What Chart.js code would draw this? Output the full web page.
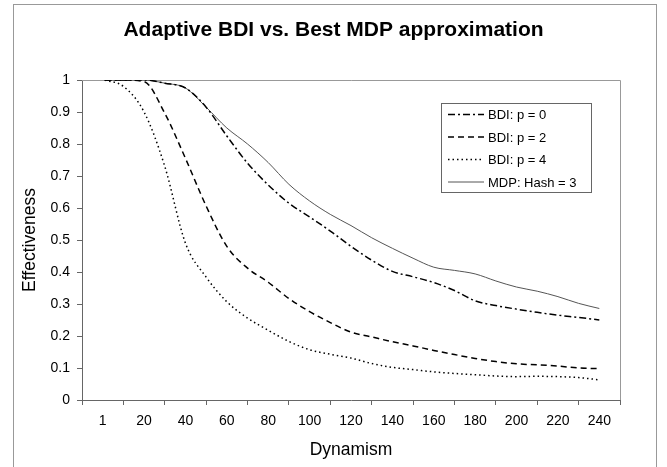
<!DOCTYPE html>
<html>
<head>
<meta charset="utf-8">
<script src="https://cdn.jsdelivr.net/npm/chart.js@4.4.0/dist/chart.umd.min.js"></script>
<style>
  body { margin: 0; background: #fff; }
</style>
</head>
<body>
<canvas id="chart" width="667" height="467"></canvas>
<script>
// values
const dynamism = [1, 10, 20, 30, 40, 50, 60, 70, 80, 90, 100, 110, 120, 130, 140, 150, 160, 170, 180, 190, 200, 210, 220, 230, 240]
const bdiP0 = [1.0, 1.0, 1.0, 0.99, 0.975, 0.915, 0.825, 0.74, 0.672, 0.615, 0.572, 0.528, 0.48, 0.437, 0.402, 0.385, 0.367, 0.342, 0.31, 0.295, 0.284, 0.274, 0.265, 0.258, 0.25]
const bdiP2 = [1.0, 1.0, 0.995, 0.896, 0.755, 0.606, 0.48, 0.412, 0.368, 0.317, 0.276, 0.242, 0.212, 0.197, 0.182, 0.169, 0.155, 0.142, 0.13, 0.12, 0.113, 0.11, 0.106, 0.1, 0.098]
const bdiP4 = [1.0, 0.98, 0.9, 0.73, 0.49, 0.384, 0.307, 0.256, 0.218, 0.183, 0.157, 0.143, 0.131, 0.114, 0.102, 0.095, 0.088, 0.083, 0.079, 0.075, 0.073, 0.074, 0.073, 0.07, 0.063]
const mdpHash3 = [1.0, 1.0, 1.0, 0.99, 0.975, 0.915, 0.85, 0.8, 0.742, 0.674, 0.622, 0.58, 0.545, 0.507, 0.474, 0.443, 0.415, 0.405, 0.394, 0.372, 0.353, 0.34, 0.323, 0.302, 0.286]
const xTicks = ['1', '20', '40', '60', '80', '100', '120', '140', '160', '180', '200', '220', '240']

const seriesNames = ['BDI: p = 0', 'BDI: p = 2', 'BDI: p = 4', 'MDP: Hash = 3']

Chart.defaults.font.family = '"Liberation Sans", Arial, sans-serif'
Chart.defaults.color = '#000'

function pts(arr) {
  return dynamism.map((d, i) => ({ x: d, y: arr[i] }))
}

// outer frame + plot area border (top/right) like the original
const framePlugin = {
  id: 'frame',
  beforeDraw(chart) {
    const c = chart.ctx
    c.save()
    c.fillStyle = '#fff'
    c.fillRect(0, 0, chart.width, chart.height)
    c.strokeStyle = '#999'
    c.lineWidth = 1
    c.strokeRect(13.5, 4.5, 643, 480)
    c.restore()
  },
  beforeDatasetsDraw(chart) {
    const a = chart.chartArea
    const c = chart.ctx
    c.save()
    c.strokeStyle = '#999'
    c.lineWidth = 1
    c.beginPath()
    c.moveTo(a.left, Math.round(a.top) + 0.5)
    c.lineTo(Math.round(a.right) + 0.5, Math.round(a.top) + 0.5)
    c.lineTo(Math.round(a.right) + 0.5, a.bottom)
    c.stroke()
    c.restore()
  }
}

// boxed legend inside the plot, top right
const boxLegend = {
  id: 'boxLegend',
  afterDraw(chart) {
    const c = chart.ctx
    const x0 = 441.5, y0 = 103.5, w = 150, h = 89
    c.save()
    c.fillStyle = '#fff'
    c.fillRect(x0, y0, w, h)
    c.strokeStyle = '#666'
    c.lineWidth = 1
    c.strokeRect(x0, y0, w, h)
    c.font = '13px "Liberation Sans", Arial'
    c.textBaseline = 'middle'
    chart.data.datasets.forEach((ds, i) => {
      const y = y0 + 11 + i * 22.5
      c.strokeStyle = ds.borderColor
      c.lineWidth = ds.borderWidth
      c.setLineDash(ds.borderDash || [])
      c.beginPath()
      c.moveTo(448, y)
      c.lineTo(484, y)
      c.stroke()
      c.setLineDash([])
      c.fillStyle = '#000'
      c.fillText(ds.label, 488, y + 1)
    })
    c.restore()
  }
}

new Chart(document.getElementById('chart'), {
  type: 'line',
  data: {
    datasets: [
      { label: seriesNames[0], data: pts(bdiP0), borderColor: '#000', borderWidth: 1.5, borderDash: [7, 3, 2, 3] },
      { label: seriesNames[1], data: pts(bdiP2), borderColor: '#000', borderWidth: 1.5, borderDash: [6, 4] },
      { label: seriesNames[2], data: pts(bdiP4), borderColor: '#000', borderWidth: 1.5, borderDash: [1.5, 3] },
      { label: seriesNames[3], data: pts(mdpHash3), borderColor: '#555', borderWidth: 1 }
    ]
  },
  options: {
    responsive: false,
    animation: false,
    cubicInterpolationMode: 'monotone',
    pointRadius: 0,
    layout: { padding: 0 },
    plugins: {
      legend: { display: false },
      tooltip: { enabled: false },
      title: {
        display: true,
        text: 'Adaptive BDI vs. Best MDP approximation',
        font: { size: 21, weight: 'bold' },
        padding: { top: 17.4, bottom: 37.4 }
      }
    },
    scales: {
      x: {
        type: 'linear',
        min: -10,
        max: 250,
        afterBuildTicks: s => { s.ticks = xTicks.map((t, i) => ({ value: i * 20 })) },
        afterFit: s => { s.height = 67 },
        ticks: { callback: (v, i) => xTicks[i], font: { size: 14 }, padding: 8, maxRotation: 0, autoSkip: false },
        grid: { offset: true, drawOnChartArea: false, tickLength: 5, color: '#666' },
        border: { color: '#666' },
        title: { display: true, text: 'Dynamism', font: { size: 17.5 }, padding: { top: 0, bottom: 6.5 } }
      },
      y: {
        min: 0,
        max: 1,
        afterFit: s => { s.width = 82 },
        ticks: { stepSize: 0.1, font: { size: 14 }, padding: 7, callback: v => String(+v.toFixed(1)) },
        grid: { drawOnChartArea: false, tickLength: 5, color: '#666' },
        border: { color: '#666' },
        title: { display: true, text: 'Effectiveness', font: { size: 17.5 }, padding: { top: 19.5, bottom: 0 } }
      },
      // empty right-hand axis that only reserves the margin right of the plot
      yRight: {
        position: 'right',
        min: 0,
        max: 1,
        afterFit: s => { s.width = 47 },
        ticks: { display: false },
        grid: { display: false },
        border: { display: false }
      }
    }
  },
  plugins: [framePlugin, boxLegend]
})
</script>
</body>
</html>
